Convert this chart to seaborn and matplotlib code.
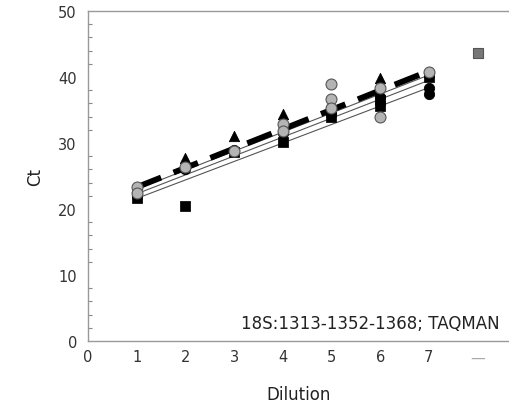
import matplotlib
matplotlib.use("Agg")
import matplotlib.pyplot as plt
import seaborn as sns
import numpy as np
import pandas as pd

sns.set_theme(style="white")
plt.rcParams['font.family'] = ['DejaVu Sans']

# ---- data ----
tri_x = [1, 2, 3, 4, 5, 6, 7]
tri_y = [23.3, 27.7, 31.0, 34.4, 36.0, 39.8, 40.8]

gcirc_x = [1, 1, 2, 3, 4, 4, 5, 5, 5, 6, 6, 7]
gcirc_y = [23.3, 22.4, 26.3, 28.8, 32.9, 31.8, 38.9, 36.7, 35.3, 38.3, 33.9, 40.7]

bsq_x = [1, 2, 3, 4, 5, 6, 6, 7]
bsq_y = [21.6, 20.4, 28.6, 30.1, 34.0, 36.5, 35.6, 40.0]

bcirc_x = [1, 2, 3, 4, 5, 6, 7, 7]
bcirc_y = [22.0, 26.0, 28.9, 31.5, 34.4, 37.0, 38.3, 37.4]

ntc_x = [8]
ntc_y = [43.6]

# regression lines: values at dilution 1 and 7
fit_x = [1, 7]
dashed_fit = [23.3, 40.9]
thin_fit_a = [23.0, 40.3]
thin_fit_b = [22.3, 39.5]
thin_fit_c = [21.6, 38.4]

xtick_labels = ['0', '1', '2', '3', '4', '5', '6', '7', '\u2014']
annotation = "18S:1313-1352-1368; TAQMAN"

# ---- figure ----
fig = plt.figure(figsize=(5.10, 4.06), dpi=100)
ax = fig.add_axes([88/510, 64/406, 1 - 88/510, 330/406])

for yy in (thin_fit_a, thin_fit_b, thin_fit_c):
    sns.lineplot(x=fit_x, y=yy, ax=ax, color='#555555', linewidth=0.8, zorder=2)
sns.lineplot(x=fit_x, y=dashed_fit, ax=ax, color='black', linewidth=4.2,
             linestyle=(0, (4.5, 2.3)), zorder=3)

sns.scatterplot(x=bsq_x, y=bsq_y, ax=ax, marker='s', s=45, color='black',
                edgecolor='black', zorder=4)
sns.scatterplot(x=bcirc_x, y=bcirc_y, ax=ax, marker='o', s=55, color='black',
                edgecolor='black', zorder=4)
sns.scatterplot(x=tri_x, y=tri_y, ax=ax, marker='^', s=55, color='black',
                edgecolor='black', zorder=4)
sns.scatterplot(x=gcirc_x, y=gcirc_y, ax=ax, marker='o', s=62, color='#b4b4b4',
                edgecolor='#555555', linewidth=0.8, zorder=5)
sns.scatterplot(x=ntc_x, y=ntc_y, ax=ax, marker='s', s=60, color='#777777',
                edgecolor='#555555', linewidth=0.8, zorder=5)

ax.set_xlim(0, 422/48.7)
ax.set_ylim(0, 50)
ax.set_xticks(range(len(xtick_labels)))
ax.set_xticklabels(xtick_labels)
ax.set_yticks(range(0, 51, 10))
ax.set_yticks(range(0, 51, 2), minor=True)

ax.tick_params(axis='both', which='both', direction='in', colors='#888888',
               labelcolor='#333333', labelsize=10.5)
ax.tick_params(axis='y', which='major', length=6, width=0.8, pad=8)
ax.tick_params(axis='y', which='minor', length=3, width=0.8, left=True)
ax.tick_params(axis='x', which='major', length=4, width=0.8, pad=6)
ax.get_xticklabels()[-1].set_color('#aaaaaa')

for side in ('left', 'bottom', 'top'):
    ax.spines[side].set_color('#999999')
    ax.spines[side].set_linewidth(1.0)
ax.spines['right'].set_visible(False)

ax.set_xlabel('Dilution', fontsize=12, color='#222222', labelpad=15)
ax.set_ylabel('Ct', fontsize=12, color='#222222', labelpad=10)

ax.text(0.975, 0.055, annotation, transform=ax.transAxes, ha='right',
        va='center', fontsize=12, color='#222222')

fig.savefig('out.png', dpi=100)
